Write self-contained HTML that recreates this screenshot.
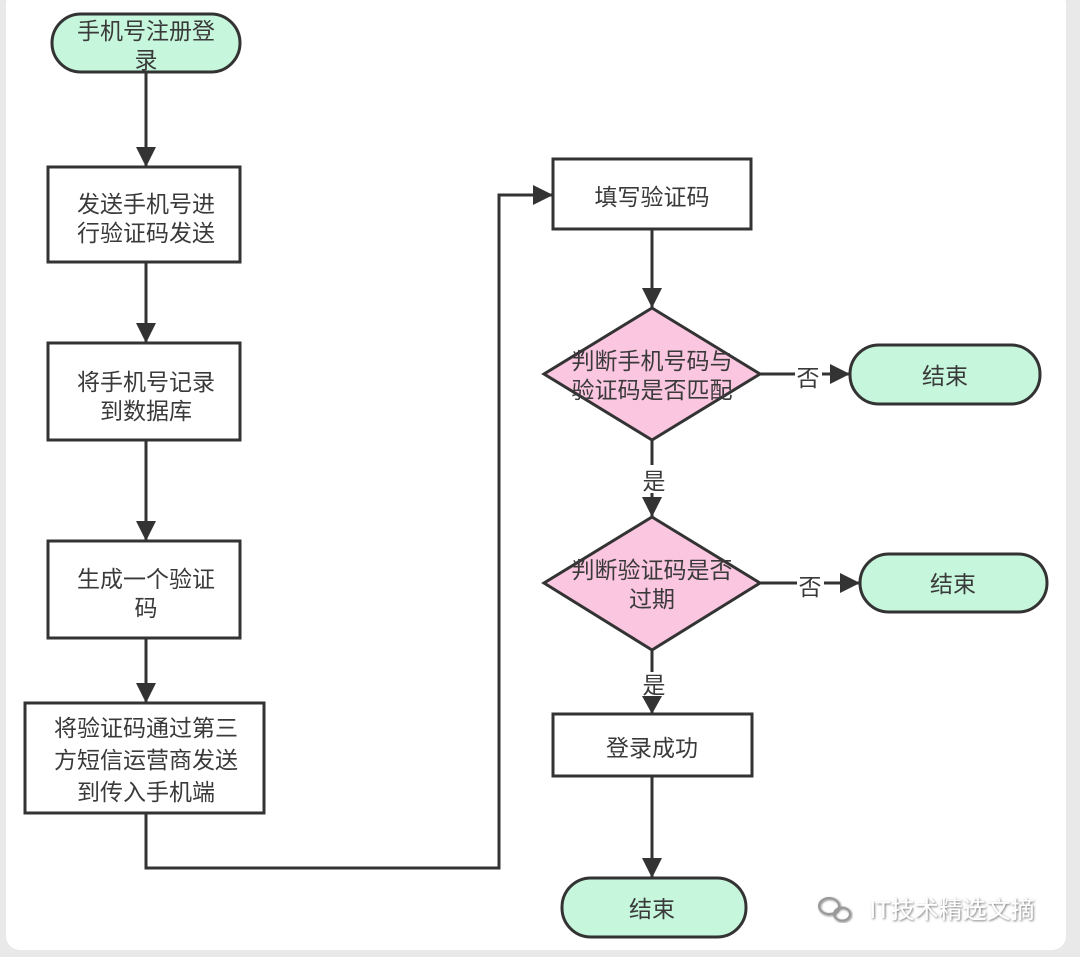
<!DOCTYPE html>
<html><head><meta charset="utf-8"><style>
html,body{margin:0;padding:0;background:#e9e9e9;width:1080px;height:957px;overflow:hidden}
svg{display:block}
text{font-family:"Liberation Sans","Noto Sans CJK SC",sans-serif;font-size:23px;fill:#3a3a3a;text-anchor:middle}
</style></head><body>
<svg width="1080" height="957" viewBox="0 0 1080 957">
<defs>
<marker id="b" viewBox="0 0 10 10" markerWidth="20" markerHeight="20" refX="10" refY="5" orient="auto" markerUnits="userSpaceOnUse"><path d="M0,0 L10,5 L0,10 Z" fill="#333"/></marker>
<filter id="sh"><feDropShadow dx="1" dy="1" stdDeviation="1" flood-color="#555" flood-opacity="0.8"/></filter></defs>
<rect x="6" y="-10" width="1060" height="960" rx="14" fill="#fff"/>
<g stroke="#333" stroke-width="3" fill="none">
<path d="M146,72 V167" marker-end="url(#b)"/>
<path d="M146,262 V343" marker-end="url(#b)"/>
<path d="M146,440 V541" marker-end="url(#b)"/>
<path d="M146,638 V703" marker-end="url(#b)"/>
<path d="M146,813 V868 H499 V195 H553" marker-end="url(#b)"/>
<path d="M652,229 V308" marker-end="url(#b)"/>
<path d="M760,374 H795 M822,374 H850" />
<path d="M652,440 V465 M652,493 V517" />
<path d="M760,583 H797 M824,583 H860" />
<path d="M652,650 V672 M652,698 V714" />
<path d="M652,776 V878" marker-end="url(#b)"/>
</g>
<g fill="#333">
<path d="M830,374 L850,374 L830,364 Z M830,374 L850,374 L830,384 Z"/>
<path d="M840,583 L860,583 L840,573 Z M840,583 L860,583 L840,593 Z"/>
<path d="M642,497 L652,517 L662,497 Z"/>
<path d="M642,696 L652,714 L662,696 Z"/>
</g>
<g stroke="#333" stroke-width="3">
<rect x="52" y="14" width="188" height="58" rx="29" fill="#c6f6dc"/>
<rect x="48" y="167" width="192" height="95" fill="#fff"/>
<rect x="48" y="343" width="192" height="97" fill="#fff"/>
<rect x="48" y="541" width="192" height="97" fill="#fff"/>
<rect x="25" y="703" width="239" height="110" fill="#fff"/>
<rect x="553" y="159" width="198" height="70" fill="#fff"/>
<path d="M652,308 L760,374 L652,440 L544,374 Z" fill="#fbc6e0"/>
<rect x="850" y="345" width="190" height="59" rx="29" fill="#c6f6dc"/>
<path d="M652,517 L760,583 L652,650 L544,583 Z" fill="#fbc6e0"/>
<rect x="860" y="554" width="187" height="58" rx="29" fill="#c6f6dc"/>
<rect x="553" y="714" width="199" height="62" fill="#fff"/>
<rect x="562" y="878" width="184" height="59" rx="29" fill="#c6f6dc"/>
</g>
<text x="146" y="39">手机号注册登</text><text x="146" y="68">录</text>
<text x="146" y="212">发送手机号进</text><text x="146" y="241">行验证码发送</text>
<text x="146" y="390">将手机号记录</text><text x="146" y="419">到数据库</text>
<text x="146" y="587">生成一个验证</text><text x="146" y="616">码</text>
<text x="146" y="736">将验证码通过第三</text><text x="146" y="768">方短信运营商发送</text><text x="146" y="800">到传入手机端</text>
<text x="652" y="205">填写验证码</text>
<text x="652" y="369">判断手机号码与</text><text x="652" y="398">验证码是否匹配</text>
<text x="808" y="386">否</text>
<text x="945" y="384">结束</text>
<text x="654" y="489">是</text>
<text x="652" y="578">判断验证码是否</text><text x="652" y="607">过期</text>
<text x="810" y="595">否</text>
<text x="953" y="592">结束</text>
<text x="654" y="693">是</text>
<text x="652" y="756">登录成功</text>
<text x="652" y="917">结束</text>
<g fill="none" stroke="#999" stroke-width="2" filter="url(#sh)"><ellipse cx="829" cy="906" rx="10" ry="8"/><ellipse cx="842" cy="914" rx="8" ry="6.5"/></g>
<text x="952" y="918" filter="url(#sh)" style="fill:#fff;font-size:24px">IT技术精选文摘</text>
</svg>
</body></html>
